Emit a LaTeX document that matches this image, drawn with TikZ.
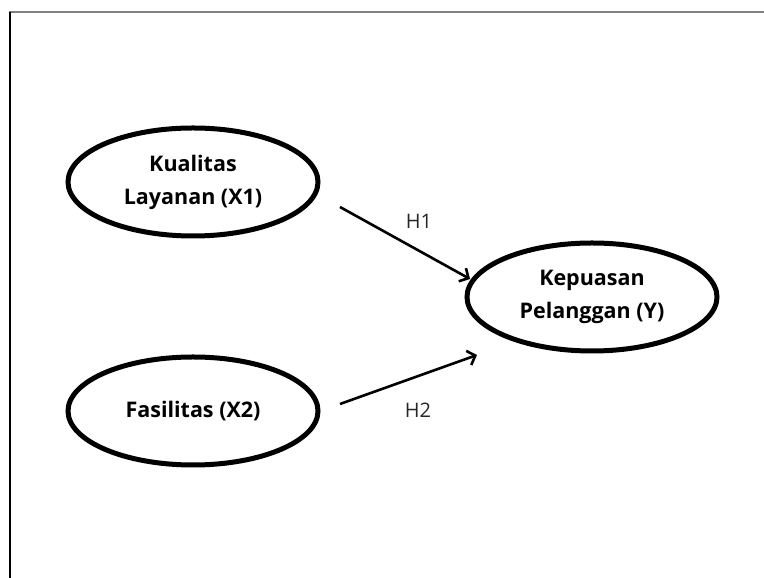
\documentclass[tikz,border=0pt]{standalone}
\usepackage{fontspec}
\setmainfont{Open Sans}
\usetikzlibrary{shapes.geometric,arrows.meta}
\begin{document}
\begin{tikzpicture}[x=1pt,y=1pt,
  var/.style={draw=black,line width=5pt,ellipse,minimum width=250pt,minimum height=108pt,inner sep=0pt,align=center,font=\bfseries\fontsize{21.5}{33}\selectfont},
  path/.style={draw=black,line width=2.6pt,-{Straight Barb[length=7pt,width=15pt,line width=2.6pt]}},
  hlab/.style={font=\fontsize{20}{22}\selectfont,text=black!85}]
\useasboundingbox (0,0) rectangle (764,578);
\draw[gray,line width=2pt] (9,566) -- (764,566);
\draw[black,line width=2pt] (10,566) -- (10,0);
\node[var] (x1) at (193,396) {Kualitas\\Layanan (X1)};
\node[var] (x2) at (193,167) {Fasilitas (X2)};
\node[var] (y) at (592,281) {Kepuasan\\Pelanggan (Y)};
\coordinate (a1) at (340,371);
\coordinate (b1) at (470,299);
\coordinate (a2) at (340,174);
\coordinate (b2) at (477,223);
\draw[path] (a1) -- (b1);
\draw[path] (a2) -- (b2);
\node[hlab] (h1) at (419,357) {H1};
\node[hlab] (h2) at (418,168) {H2};
\end{tikzpicture}
\end{document}
